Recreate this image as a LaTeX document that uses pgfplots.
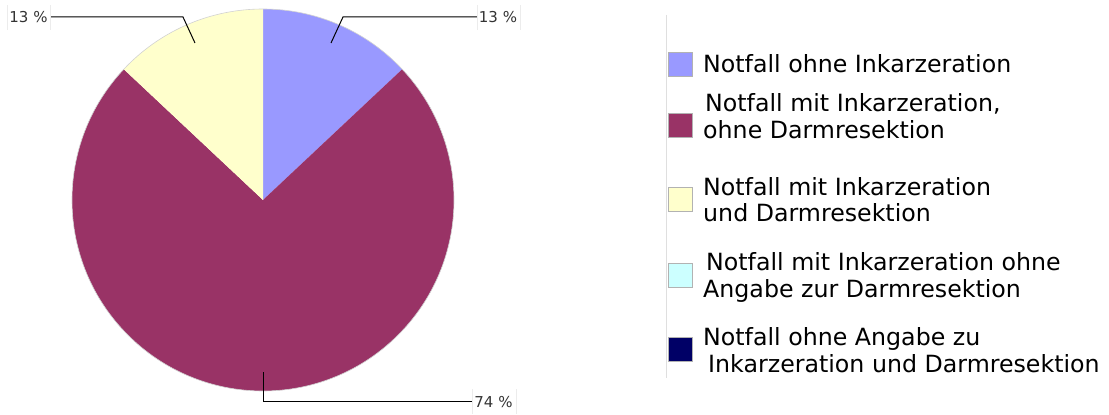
\documentclass[border=0pt]{standalone}
\usepackage{pgfplots}
\pgfplotsset{compat=1.18}
\usepackage{fontspec}
\setmainfont{DejaVu Sans}
\definecolor{cA}{HTML}{9999FF}
\definecolor{cB}{HTML}{993366}
\definecolor{cC}{HTML}{FFFFCC}
\definecolor{cD}{HTML}{CCFFFF}
\definecolor{cE}{HTML}{000066}
\definecolor{lbl}{HTML}{333333}
% shares in percent
\def\valA{13}\def\valB{74}\def\valC{13}\def\valD{0}\def\valE{0}
\pgfmathsetmacro\angA{90-3.6*\valA}
\pgfmathsetmacro\angB{\angA-3.6*\valB}
\pgfmathsetmacro\angC{\angB-3.6*\valC}
\def\R{191pt}
\newcommand\legfont{\fontsize{23.7}{28}\selectfont}
\newcommand\lblfont{\fontsize{15}{18}\selectfont}
\begin{document}
\begin{tikzpicture}
\begin{axis}[
  at={(0,0)}, anchor=south west,
  width=1109pt, height=414pt, scale only axis,
  xmin=0, xmax=1109, ymin=0, ymax=414, y dir=reverse,
  hide axis, clip=false,
]
\path (axis cs:0,0) rectangle (axis cs:1109,414);
% pie slices
\fill[cA] (axis cs:263,200) -- ([shift={(90:\R)}]axis cs:263,200) arc[start angle=90, end angle=\angA, radius=\R] -- cycle;
\fill[cB] (axis cs:263,200) -- ([shift={(\angA:\R)}]axis cs:263,200) arc[start angle=\angA, end angle=\angB, radius=\R] -- cycle;
\fill[cC] (axis cs:263,200) -- ([shift={(\angB:\R)}]axis cs:263,200) arc[start angle=\angB, end angle=\angC, radius=\R] -- cycle;
\draw[gray!35, line width=0.6pt] (axis cs:263,200) circle[radius=\R];
% leader lines
\draw[black, line width=1pt] (axis cs:331,43) -- (axis cs:343,17) -- (axis cs:477,17);
\draw[black, line width=1pt] (axis cs:195,43) -- (axis cs:183,17) -- (axis cs:50,17);
\draw[black, line width=1pt] (axis cs:263,372) -- (axis cs:263,401) -- (axis cs:472,401);
% labels
\draw[gray!15, line width=0.6pt] (axis cs:7,5) -- (axis cs:7,30) (axis cs:50,5) -- (axis cs:50,30);
\node[anchor=base, inner sep=0, text=lbl, font=\lblfont] at (axis cs:28.5,23) {13 \%};
\draw[gray!15, line width=0.6pt] (axis cs:477,5) -- (axis cs:477,30) (axis cs:520,5) -- (axis cs:520,30);
\node[anchor=base, inner sep=0, text=lbl, font=\lblfont] at (axis cs:498,23) {13 \%};
\draw[gray!15, line width=0.6pt] (axis cs:472,389) -- (axis cs:472,414) (axis cs:516,389) -- (axis cs:516,414);
\node[anchor=base, inner sep=0, text=lbl, font=\lblfont] at (axis cs:493.5,407) {74 \%};
% legend
\draw[gray!25, line width=0.8pt] (axis cs:666,15) -- (axis cs:666,378);
\filldraw[fill=cA, draw=gray!60, line width=0.6pt] (axis cs:668,52) rectangle (axis cs:692,76);
\filldraw[fill=cB, draw=gray!60, line width=0.6pt] (axis cs:668,113) rectangle (axis cs:692,137);
\filldraw[fill=cC, draw=gray!60, line width=0.6pt] (axis cs:668,187) rectangle (axis cs:692,211);
\filldraw[fill=cD, draw=gray!60, line width=0.6pt] (axis cs:668,263) rectangle (axis cs:692,287);
\filldraw[fill=cE, draw=gray!60, line width=0.6pt] (axis cs:668,337) rectangle (axis cs:692,361);
\node[anchor=base west, inner sep=0, font=\legfont] at (axis cs:703,73) {Notfall ohne Inkarzeration};
\node[anchor=base west, inner sep=0, font=\legfont] at (axis cs:705,112) {Notfall mit Inkarzeration,};
\node[anchor=base west, inner sep=0, font=\legfont] at (axis cs:703,139) {ohne Darmresektion};
\node[anchor=base west, inner sep=0, font=\legfont] at (axis cs:703,196) {Notfall mit Inkarzeration};
\node[anchor=base west, inner sep=0, font=\legfont] at (axis cs:703,222) {und Darmresektion};
\node[anchor=base west, inner sep=0, font=\legfont] at (axis cs:706,270) {Notfall mit Inkarzeration ohne};
\node[anchor=base west, inner sep=0, font=\legfont] at (axis cs:703,297) {Angabe zur Darmresektion};
\node[anchor=base west, inner sep=0, font=\legfont] at (axis cs:703,345) {Notfall ohne Angabe zu};
\node[anchor=base west, inner sep=0, font=\legfont] at (axis cs:708,372) {Inkarzeration und Darmresektion};
\end{axis}
\end{tikzpicture}
\end{document}
